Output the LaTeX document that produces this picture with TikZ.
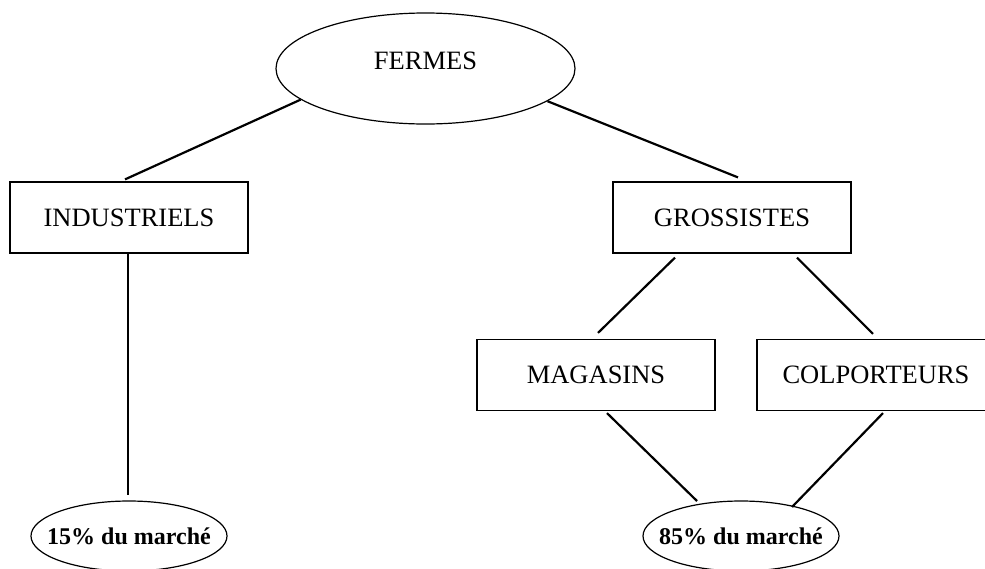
\documentclass[tikz,border=0pt]{standalone}
\usepackage{fontspec}
\setmainfont{Liberation Serif}
\usetikzlibrary{shapes.geometric,calc}
\begin{document}
\begin{tikzpicture}[x=1pt,y=-1pt,
  boxnode/.style={draw, line width=1.2pt, minimum width=238pt, minimum height=71pt, inner sep=0pt, font=\fontsize{26.5}{30}\selectfont},
  endell/.style={draw, ellipse, line width=1.2pt, minimum width=196pt, minimum height=70pt, inner sep=0pt, font=\fontsize{24}{28}\selectfont\bfseries},
  conn/.style={line width=2.2pt}]
\useasboundingbox (0,0) rectangle (985,568);
\node[draw, ellipse, line width=1.2pt, minimum width=299pt, minimum height=111pt, inner sep=0pt,
  label={[yshift=8pt, font=\fontsize{26.5}{30}\selectfont]center:FERMES}] (fermes) at (425.5,68.5) {};
\node[boxnode] (ind) at (129,217.5) {INDUSTRIELS};
\node[boxnode] (gros) at (732,217.5) {GROSSISTES};
\node[boxnode] (mag) at (596,375) {MAGASINS};
\node[boxnode] (col) at (876,375) {COLPORTEURS};
\node[endell] (p15) at (129,536) {\makebox[0pt]{15\% du marché}};
\node[endell] (p85) at (741,536) {\makebox[0pt]{85\% du marché}};
\draw[conn] (fermes.194) -- ([xshift=-4pt,yshift=2pt]ind.north);
\draw[conn] (fermes.345.6) -- ([xshift=6pt,yshift=4pt]gros.north);
\draw[conn] ([xshift=-1pt]ind.south) -- ([xshift=-1pt,yshift=5pt]p15.north);
\draw[conn] ([xshift=-57pt,yshift=-4pt]gros.south) -- ([xshift=2pt,yshift=6pt]mag.north);
\draw[conn] ([xshift=65pt,yshift=-4pt]gros.south) -- ([xshift=-3pt,yshift=5pt]col.north);
\draw[conn] ([xshift=11pt,yshift=-2pt]mag.south) -- ([xshift=-44pt,yshift=35pt]p85.center);
\draw[conn] ([xshift=7pt,yshift=-2pt]col.south) -- ([xshift=51pt,yshift=29pt]p85.center);
\end{tikzpicture}
\end{document}
